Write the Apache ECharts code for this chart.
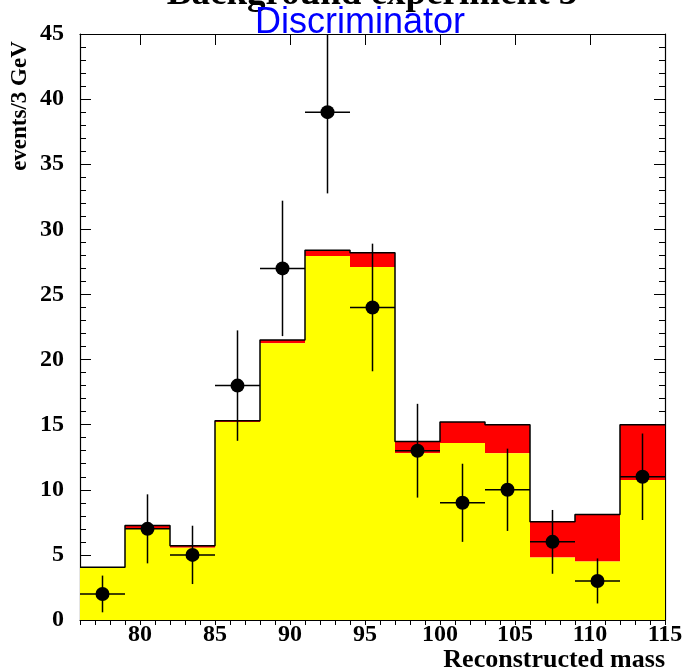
<!DOCTYPE html>
<html>
<head>
<meta charset="utf-8">
<script src="https://cdn.jsdelivr.net/npm/echarts@6/dist/echarts.min.js"></script>
<style>
html,body{margin:0;padding:0;background:#fff;}
#chart{width:687px;height:670px;}
</style>
</head>
<body>
<div id="chart"></div>
<script>
// Bin lower/upper edges (GeV)
const binLow  = [76, 79, 82, 85, 88, 91, 94, 97, 100, 103, 106, 109, 112];
const binHigh = [79, 82, 85, 88, 91, 94, 97, 100, 103, 106, 109, 112, 115];
// Background (yellow) and background+signal total (top of red)
const yellowVals = [4.05, 7.05, 5.55, 15.2, 21.25, 27.95, 27.1, 12.8, 13.6, 12.8, 4.8, 4.5, 10.75];
const totalVals  = [4.05, 7.25, 5.7, 15.3, 21.5, 28.4, 28.2, 13.7, 15.2, 15.0, 7.55, 8.1, 15.0];
// Data points and their errors
const binCenters = [77.5, 80.5, 83.5, 86.5, 89.5, 92.5, 95.5, 98.5, 101.5, 104.5, 107.5, 110.5, 113.5];
const dataVals   = [2, 7, 5, 18, 27, 39, 24, 13, 9, 10, 6, 3, 11];
const dataErrs   = [1.41, 2.65, 2.24, 4.24, 5.2, 6.24, 4.9, 3.6, 3.0, 3.16, 2.45, 1.73, 3.32];

const titleText = 'Background experiment 3';
const subTitleText = 'Discriminator';
const xTitle = 'Reconstructed mass';
const yTitle = 'events/3 GeV';

const serif = '"Liberation Serif", "Times New Roman", serif';
const sans = '"Liberation Sans", Arial, sans-serif';

const histData = binLow.map((lo, i) => [lo, binHigh[i], yellowVals[i], totalVals[i]]);
const outline = binLow.map((lo, i) => [lo, totalVals[i]]);
outline.push([binHigh[binHigh.length - 1], totalVals[totalVals.length - 1]]);
const pointData = binCenters.map((c, i) => [c, dataVals[i], dataErrs[i], binHigh[i] - binLow[i]]);

const chart = echarts.init(document.getElementById('chart'), null, {renderer: 'canvas'});

const labelStyle = {fontFamily: serif, fontWeight: 'bold', fontSize: 24, color: '#000'};

const xMajorCommon = {
  type: 'value', min: 76, max: 115, minInterval: 5, maxInterval: 5,
  axisLine: {show: true, onZero: false, lineStyle: {color: '#000', width: 1.2}},
  splitLine: {show: false},
};

const option = {
  animation: false,
  backgroundColor: '#fff',
  grid: {left: 80, right: 22, top: 34, bottom: 50, containLabel: false},
  xAxis: [
    Object.assign({}, xMajorCommon, {
      position: 'bottom',
      axisTick: {show: true, inside: true, length: 11, lineStyle: {color: '#000', width: 1}},
      axisLabel: Object.assign({show: true, margin: 3, showMinLabel: false}, labelStyle),
    }),
    Object.assign({}, xMajorCommon, {
      position: 'top',
      axisTick: {show: true, inside: true, length: 11, lineStyle: {color: '#000', width: 1}},
      axisLabel: {show: false},
    }),
    {
      type: 'value', min: 76, max: 115, interval: 1, position: 'bottom',
      axisLine: {show: false}, splitLine: {show: false}, axisLabel: {show: false},
      axisTick: {show: true, inside: true, length: 5, lineStyle: {color: '#000', width: 1}},
    },
    {
      type: 'value', min: 76, max: 115, interval: 1, position: 'top',
      axisLine: {show: false}, splitLine: {show: false}, axisLabel: {show: false},
      axisTick: {show: true, inside: true, length: 5, lineStyle: {color: '#000', width: 1}},
    }
  ],
  yAxis: [
    {
      type: 'value', min: 0, max: 45, interval: 5, position: 'left',
      axisLine: {show: true, onZero: false, lineStyle: {color: '#000', width: 1.2}},
      axisTick: {show: true, inside: true, length: 11, lineStyle: {color: '#000', width: 1}},
      minorTick: {show: true, splitNumber: 5, length: 6, lineStyle: {color: '#000', width: 1}},
      splitLine: {show: false},
      axisLabel: Object.assign({show: true, margin: 16}, labelStyle),
    },
    {
      type: 'value', min: 0, max: 45, interval: 5, position: 'right',
      axisLine: {show: true, onZero: false, lineStyle: {color: '#000', width: 1.2}},
      axisTick: {show: true, inside: true, length: 11, lineStyle: {color: '#000', width: 1}},
      minorTick: {show: true, splitNumber: 5, length: 6, lineStyle: {color: '#000', width: 1}},
      splitLine: {show: false},
      axisLabel: {show: false},
    }
  ],
  series: [
    {
      type: 'custom',
      name: 'hist',
      xAxisIndex: 0, yAxisIndex: 0,
      clip: true,
      data: histData,
      z: 1,
      renderItem: function (params, api) {
        const lo = api.value(0), hi = api.value(1), yv = api.value(2), tv = api.value(3);
        const p0 = api.coord([lo, 0]);
        const pY = api.coord([hi, yv]);
        const pT = api.coord([hi, tv]);
        const children = [];
        if (tv > yv) {
          children.push({
            type: 'rect',
            shape: {x: p0[0], y: pT[1], width: pY[0] - p0[0], height: pY[1] - pT[1]},
            style: {fill: '#ff0000'}
          });
        }
        children.push({
          type: 'rect',
          shape: {x: p0[0], y: pY[1], width: pY[0] - p0[0], height: p0[1] - pY[1]},
          style: {fill: '#ffff00'}
        });
        return {type: 'group', children: children};
      }
    },
    {
      type: 'line',
      name: 'outline',
      xAxisIndex: 0, yAxisIndex: 0,
      step: 'end',
      data: outline,
      symbol: 'none',
      clip: true,
      z: 2,
      lineStyle: {color: '#000', width: 1.5}
    },
    {
      type: 'custom',
      name: 'errors',
      xAxisIndex: 0, yAxisIndex: 0,
      clip: true,
      data: pointData,
      z: 3,
      renderItem: function (params, api) {
        const c = api.value(0), v = api.value(1), e = api.value(2), w = api.value(3);
        const top = api.coord([c, v + e]);
        const bot = api.coord([c, v - e]);
        const left = api.coord([c - w / 2, v]);
        const right = api.coord([c + w / 2, v]);
        const st = {stroke: '#000', lineWidth: 1.5};
        return {
          type: 'group',
          children: [
            {type: 'line', shape: {x1: top[0], y1: top[1], x2: bot[0], y2: bot[1]}, style: st},
            {type: 'line', shape: {x1: left[0], y1: left[1], x2: right[0], y2: right[1]}, style: st}
          ]
        };
      }
    },
    {
      type: 'scatter',
      name: 'data',
      xAxisIndex: 0, yAxisIndex: 0,
      data: binCenters.map((c, i) => [c, dataVals[i]]),
      symbol: 'circle',
      symbolSize: 14,
      itemStyle: {color: '#000', opacity: 1},
      z: 4
    }
  ],
  graphic: [
    {
      type: 'text', x: 372, y: -6,
      style: {text: titleText, font: 'bold 37px ' + serif, fill: '#000', align: 'center', verticalAlign: 'middle'},
      silent: true
    },
    {
      type: 'text', x: 360, y: 23,
      style: {text: subTitleText, font: '36px ' + sans, fill: '#0000ff', align: 'center', verticalAlign: 'middle'},
      silent: true
    },
    {
      type: 'text', x: 665, y: 660,
      style: {text: xTitle, font: 'bold 26px ' + serif, fill: '#000', align: 'right', verticalAlign: 'middle'},
      silent: true
    },
    {
      type: 'text', x: 20, y: 106, rotation: Math.PI / 2,
      style: {text: yTitle, font: 'bold 23px ' + serif, fill: '#000', align: 'center', verticalAlign: 'middle'},
      silent: true
    }
  ]
};
chart.setOption(option);
</script>
</body>
</html>
